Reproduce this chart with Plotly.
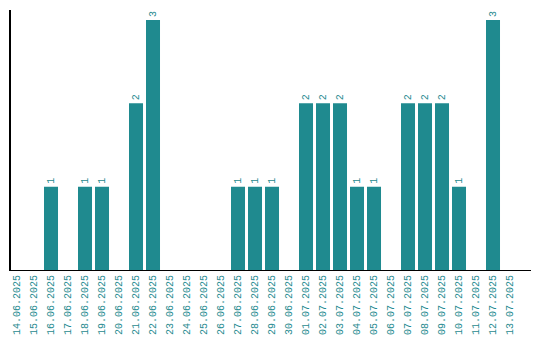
import plotly.graph_objects as go

dates = ["14.06.2025","15.06.2025","16.06.2025","17.06.2025","18.06.2025","19.06.2025",
         "20.06.2025","21.06.2025","22.06.2025","23.06.2025","24.06.2025","25.06.2025",
         "26.06.2025","27.06.2025","28.06.2025","29.06.2025","30.06.2025","01.07.2025",
         "02.07.2025","03.07.2025","04.07.2025","05.07.2025","06.07.2025","07.07.2025",
         "08.07.2025","09.07.2025","10.07.2025","11.07.2025","12.07.2025","13.07.2025"]
counts = [0,0,1,0,1,1,0,2,3,0,0,0,0,1,1,1,0,2,2,2,1,1,0,2,2,2,1,0,3,0]

teal = "#1f8a8f"
labels = [str(v) if v > 0 else "" for v in counts]
fnt = "Liberation Mono"

fig = go.Figure(go.Bar(
    x=dates, y=counts, marker_color=teal, marker_line_width=0,
    text=labels, textposition="outside", textangle=-90,
    textfont=dict(family=fnt, size=10, color=teal),
    cliponaxis=False,
))
fig.update_layout(
    width=540, height=340,
    margin=dict(l=3, r=17, t=2, b=78),
    plot_bgcolor="white", paper_bgcolor="white",
    bargap=0.176, showlegend=False,
    font=dict(family=fnt, size=10, color=teal),
)
fig.update_xaxes(type="category", range=[-0.353, 30.235], tickangle=-90,
                 showline=True, linecolor="black",
                 linewidth=1, ticks="", showgrid=False, automargin=False,
                 tickfont=dict(family=fnt, size=10, color=teal))
fig.update_yaxes(range=[0, 3.12], showline=True, linecolor="black", linewidth=1.5,
                 showticklabels=False, ticks="", showgrid=False, zeroline=False,
                 automargin=False)
fig.write_html("out.html")
